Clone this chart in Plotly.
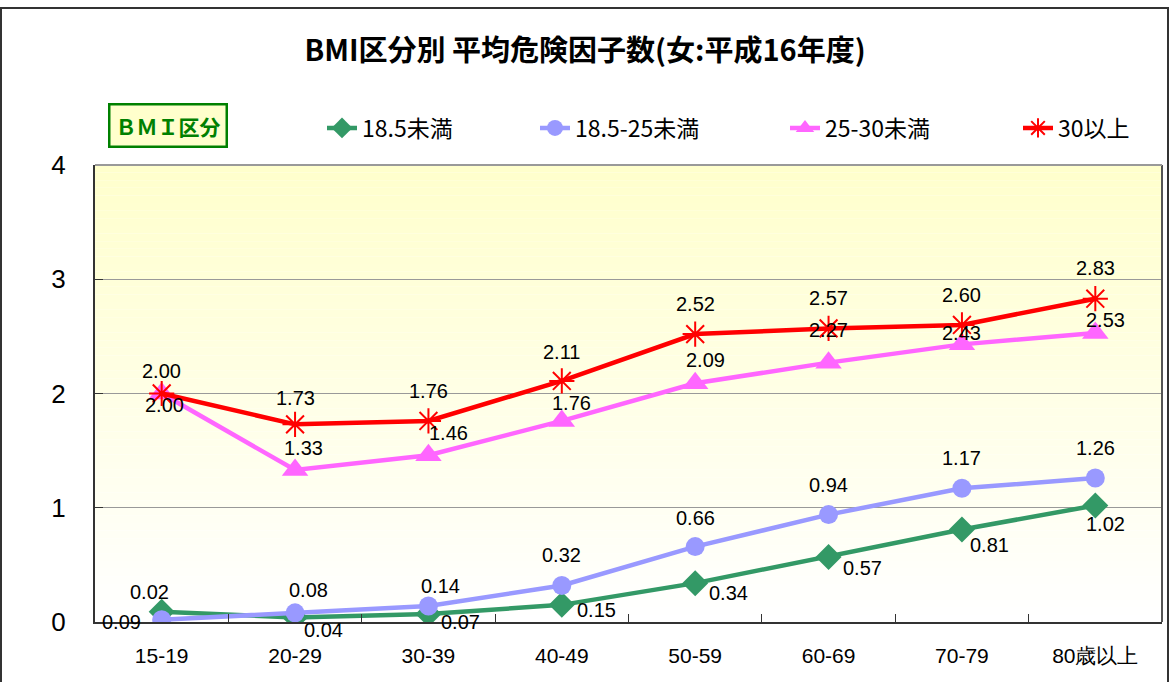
import plotly.graph_objects as go

categories = ["15-19", "20-29", "30-39", "40-49", "50-59", "60-69", "70-79", "80歳以上"]
under_18_5 = [0.09, 0.04, 0.07, 0.15, 0.34, 0.57, 0.81, 1.02]
bmi_18_5_25 = [0.02, 0.08, 0.14, 0.32, 0.66, 0.94, 1.17, 1.26]
bmi_25_30 = [2.00, 1.33, 1.46, 1.76, 2.09, 2.27, 2.43, 2.53]
over_30 = [2.00, 1.73, 1.76, 2.11, 2.52, 2.57, 2.60, 2.83]
series_names = ["18.5未満", "18.5-25未満", "25-30未満", "30以上"]
title_text = "BMI区分別 平均危険因子数(女:平成16年度)"
y_ticks = [0, 1, 2, 3, 4]

# styles
colors = ["#339966", "#9999FF", "#FF66FF", "#FF0000"]
symbols = ["diamond", "circle", "triangle-up", "asterisk-open"]
marker_sizes = [20, 19, 23, 21]
label_offsets = [
    [(-40, 10), (28, 13), (32, 8), (35, 5), (33, 10), (34, 11), (28, 16), (10, 19)],
    [(-12, -28), (13, -23), (12, -20), (0, -30), (0, -29), (0, -30), (0, -30), (0, -30)],
    [(3, 11), (8, -22), (20, -22), (10, -18), (10, -23), (0, -33), (0, -11), (10, -13)],
    [(0, -23), (0, -26), (0, -30), (0, -29), (0, -30), (0, -30), (0, -30), (0, -31)],
]
legend_px = [322, 535, 785, 1018]

L, R, T, B = 95, 8, 165, 60
W, H = 1170, 682
pw = W - L - R
ph = H - T - B

FONT = "Liberation Sans, Arial, sans-serif"
CJK = "Noto Sans CJK JP, sans-serif"

fig = go.Figure()
all_series = [under_18_5, bmi_18_5_25, bmi_25_30, over_30]
for i, vals in enumerate(all_series):
    lg = "legend" if i == 0 else f"legend{i+1}"
    marker = dict(symbol=symbols[i], size=marker_sizes[i], color=colors[i])
    if symbols[i] == "asterisk-open":
        marker = dict(symbol="asterisk-open", size=marker_sizes[i], color=colors[i],
                      line=dict(color=colors[i], width=2))
    fig.add_trace(go.Scatter(
        x=categories, y=vals, name=series_names[i], mode="lines+markers",
        line=dict(color=colors[i], width=4.5), marker=marker, legend=lg,
    ))
    for j, v in enumerate(vals):
        dx, dy = label_offsets[i][j]
        fig.add_annotation(x=categories[j], y=v, text=f"{v:.2f}", showarrow=False,
                           xshift=dx, yshift=-dy,
                           font=dict(family=FONT, size=20, color="#000000"))

# gradient background
n = 60
for k in range(n):
    t = k / (n - 1)
    b = int(round(255 - 51 * t))
    fig.add_shape(type="rect", xref="paper", yref="y", x0=0, x1=1,
                  y0=4 * k / n, y1=4 * (k + 1) / n, layer="below",
                  line=dict(width=0), fillcolor=f"rgb(255,255,{b})")

# plot border right/top
fig.add_shape(type="line", xref="paper", yref="paper", x0=1, x1=1, y0=0, y1=1,
              line=dict(color="#555555", width=2))
fig.add_shape(type="line", xref="paper", yref="paper", x0=0, x1=1, y0=1, y1=1,
              line=dict(color="#999999", width=2))
# outer frame
fig.add_shape(type="rect", xref="paper", yref="paper",
              x0=(1 - L) / pw, x1=(1168 - L) / pw,
              y0=(ph + T - 720) / ph, y1=(ph + T - 8) / ph,
              line=dict(color="#333333", width=2))

fig.add_annotation(xref="paper", yref="paper", x=(168 - L) / pw, y=(ph + T - 126) / ph,
                   xanchor="center", yanchor="middle",
                   text="<b>ＢＭＩ区分</b>", showarrow=False,
                   font=dict(family=CJK, size=21, color="#008000"),
                   bgcolor="#FFFFCC", bordercolor="#008000", borderwidth=2.5, borderpad=5)

legend_style = dict(orientation="h", yanchor="middle", xanchor="left",
                    xref="container", yref="container",
                    y=1 - 128 / H, bgcolor="rgba(0,0,0,0)",
                    font=dict(family=CJK, size=23, color="#000000"))
layout_legends = {}
for i in range(4):
    key = "legend" if i == 0 else f"legend{i+1}"
    layout_legends[key] = dict(legend_style, x=legend_px[i] / W)

fig.update_layout(
    width=W, height=H,
    margin=dict(l=L, r=R, t=T, b=B),
    paper_bgcolor="#FFFFFF", plot_bgcolor="#FFFFFF",
    title=dict(text=f"<b>{title_text}</b>", x=0.5, xref="container", xanchor="center",
               y=1 - 51 / H, yanchor="middle",
               font=dict(family=CJK, size=29, color="#000000")),
    showlegend=True,
    **layout_legends,
)
fig.update_xaxes(type="category", categoryorder="array", categoryarray=categories,
                 automargin=False,
                 showline=True, linecolor="#333333", linewidth=2,
                 ticks="inside", tickson="boundaries", ticklen=8, tickcolor="#333333",
                 showgrid=False, tickfont=dict(family=FONT, size=21, color="#000000"),
                 ticklabelstandoff=14, range=[-0.5, 7.5])
fig.update_yaxes(range=[0, 4], tickvals=y_ticks, showline=True, linecolor="#333333",
                 automargin=False,
                 linewidth=2, ticks="inside", ticklen=8, tickcolor="#333333",
                 showgrid=True, gridcolor="#999999", gridwidth=1, zeroline=False,
                 tickfont=dict(family=FONT, size=26, color="#000000"), ticklabelstandoff=22)

fig.write_html("out.html", config={"displayModeBar": False},
               post_script="document.body.style.margin='0';")
